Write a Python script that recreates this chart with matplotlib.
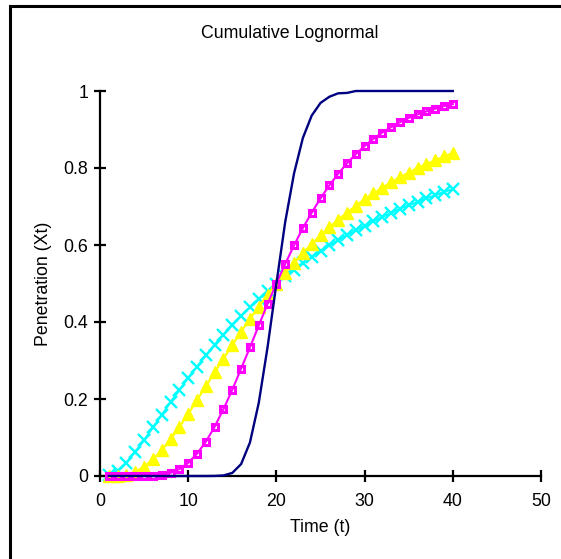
import matplotlib
matplotlib.use("Agg")
import matplotlib.pyplot as plt
from matplotlib.patches import Rectangle

t = list(range(1, 41))

navy = [0, 0, 0, 0, 0, 0, 0, 0, 0, 0, 0, 0, 0.0002, 0.0015, 0.008, 0.031,
        0.087, 0.19, 0.335, 0.5, 0.66, 0.786, 0.878, 0.936, 0.969, 0.985,
        0.994, 0.995, 1.0, 1.0, 1.0, 1.0, 1.0, 1.0, 1.0, 1.0, 1.0, 1.0, 1.0, 1.0]

magenta = [0, 0, 0, 0.00001, 0.0001, 0.0008, 0.0029, 0.008, 0.018, 0.034,
           0.058, 0.089, 0.128, 0.174, 0.224, 0.279, 0.334, 0.391, 0.447, 0.5,
           0.551, 0.599, 0.644, 0.684, 0.721, 0.755, 0.785, 0.812, 0.836, 0.857,
           0.876, 0.892, 0.906, 0.919, 0.930, 0.939, 0.947, 0.954, 0.961, 0.966]

yellow = [0.00001, 0.0005, 0.0034, 0.011, 0.024, 0.043, 0.067, 0.095, 0.127, 0.161,
          0.197, 0.233, 0.269, 0.305, 0.340, 0.375, 0.408, 0.440, 0.471, 0.5,
          0.528, 0.554, 0.579, 0.603, 0.625, 0.646, 0.666, 0.684, 0.702, 0.719,
          0.734, 0.749, 0.763, 0.776, 0.788, 0.800, 0.810, 0.820, 0.830, 0.839]

cyan = [0.0022, 0.014, 0.035, 0.063, 0.093, 0.126, 0.159, 0.192, 0.223, 0.255,
        0.284, 0.313, 0.341, 0.367, 0.392, 0.416, 0.438, 0.460, 0.481, 0.5,
        0.519, 0.536, 0.553, 0.569, 0.584, 0.599, 0.612, 0.626, 0.638, 0.650,
        0.662, 0.673, 0.683, 0.694, 0.703, 0.712, 0.721, 0.729, 0.738, 0.745]

xticks = [0, 10, 20, 30, 40, 50]
yticks = [0, 0.2, 0.4, 0.6, 0.8, 1]
ytick_labels = ["0", "0.2", "0.4", "0.6", "0.8", "1"]

plt.rcParams['font.family'] = ['Liberation Sans', 'DejaVu Sans']
W, H = 561, 559
fig = plt.figure(figsize=(W / 100, H / 100), dpi=100)
ax = fig.add_axes([100 / W, 1 - 476 / H, 441 / W, 385 / H])

ax.plot(t, navy, color='#000080', lw=1.7, clip_on=False, zorder=5)
ax.plot(t, magenta, color='#FF00FF', lw=1.5, marker='s', ms=5, mfc='none',
        mec='#FF00FF', mew=2.2, clip_on=False, zorder=4)
ax.plot(t, yellow, color='#FFFF00', lw=1.5, marker='^', ms=9, mfc='#FFFF00',
        mec='#FFFF00', clip_on=False, zorder=3)
ax.plot(t, cyan, color='#00FFFF', lw=1.5, marker='x', ms=9, mew=1.7,
        clip_on=False, zorder=2)

ax.set_xlim(0, 50)
ax.set_ylim(0, 1)
ax.set_xticks(xticks)
ax.set_yticks(yticks)
ax.set_yticklabels(ytick_labels)
for s in ['top', 'right']:
    ax.spines[s].set_visible(False)
for s in ['left', 'bottom']:
    ax.spines[s].set_linewidth(1.6)
ax.tick_params(axis='both', direction='inout', length=9, width=1.6,
               labelsize=12.8, colors='black')
ax.tick_params(axis='x', pad=8)
ax.tick_params(axis='y', pad=4)

ax.set_xlabel("Time (t)", fontsize=12.8, labelpad=6)
ax.set_ylabel("Penetration (Xt)", fontsize=12.8, labelpad=8)
fig.text(290 / W, 1 - 33 / H, "Cumulative Lognormal", fontsize=12.8,
         ha='center', va='center')

fig.patches.append(Rectangle((9.5 / W, -0.1), 1.2, 1 - 6 / H + 0.1,
                             transform=fig.transFigure, fill=False,
                             edgecolor='black', lw=2.2))

fig.savefig("out.png", dpi=100)
